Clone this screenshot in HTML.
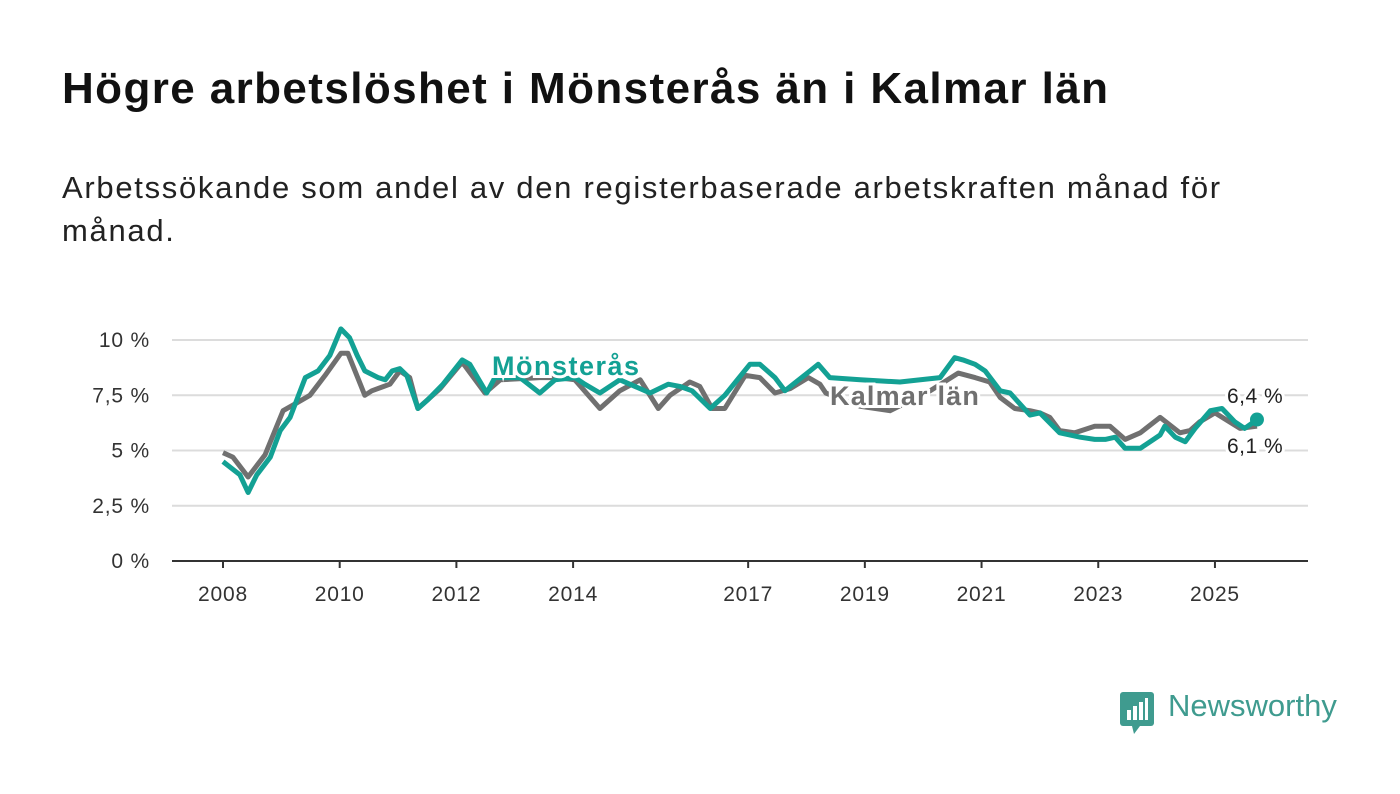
<!DOCTYPE html>
<html><head><meta charset="utf-8"><style>
body{margin:0;width:1400px;height:794px;background:#fff;font-family:"Liberation Sans",sans-serif;overflow:hidden;position:relative}
h1{position:absolute;left:62px;top:64px;margin:0;font-size:44px;letter-spacing:1.4px;font-weight:bold;color:#111}
p{position:absolute;left:62px;top:166px;margin:0;font-size:31px;letter-spacing:1.7px;line-height:43px;color:#222;width:1300px}
</style></head><body>
<h1>Högre arbetslöshet i Mönsterås än i Kalmar län</h1>
<p>Arbetssökande som andel av den registerbaserade arbetskraften månad för<br>månad.</p>
<svg id="c" width="1400" height="794" style="position:absolute;left:0;top:0"></svg>
<script>
const yTicks=[0,2.5,5,7.5,10];
const yTickLabels=["0 %","2,5 %","5 %","7,5 %","10 %"];
const xTicks=[2008,2010,2012,2014,2017,2019,2021,2023,2025];
const mDates=[2008.0,2008.29,2008.43,2008.58,2008.81,2008.98,2009.15,2009.41,2009.63,2009.83,2010.02,2010.17,2010.30,2010.43,2010.66,2010.78,2010.90,2011.03,2011.15,2011.34,2011.51,2011.77,2012.10,2012.23,2012.52,2012.66,2013.09,2013.43,2013.69,2014.03,2014.20,2014.46,2014.80,2015.32,2015.63,2015.83,2016.04,2016.35,2016.60,2017.03,2017.20,2017.46,2017.63,2018.06,2018.20,2018.40,2018.92,2019.60,2020.29,2020.54,2020.68,2020.89,2021.06,2021.32,2021.49,2021.83,2022.00,2022.34,2022.69,2022.94,2023.12,2023.29,2023.46,2023.72,2024.06,2024.14,2024.32,2024.49,2024.66,2024.92,2025.12,2025.34,2025.51,2025.72];
const mValues=[4.5,3.9,3.1,3.9,4.7,5.9,6.5,8.3,8.6,9.3,10.5,10.1,9.3,8.6,8.3,8.2,8.6,8.7,8.4,6.9,7.3,8.0,9.1,8.9,7.6,8.3,8.3,7.6,8.2,8.3,8.0,7.6,8.2,7.6,8.0,7.9,7.7,6.9,7.5,8.9,8.9,8.3,7.7,8.6,8.9,8.3,8.2,8.1,8.3,9.2,9.1,8.9,8.6,7.7,7.6,6.6,6.7,5.8,5.6,5.5,5.5,5.6,5.1,5.1,5.7,6.1,5.6,5.4,6.0,6.8,6.9,6.3,6.0,6.4];
const kDates=[2008.0,2008.17,2008.43,2008.72,2009.03,2009.23,2009.49,2009.75,2010.02,2010.14,2010.43,2010.55,2010.86,2011.03,2011.20,2011.34,2011.72,2012.10,2012.49,2012.75,2013.43,2013.74,2014.03,2014.46,2014.80,2015.15,2015.46,2015.66,2016.00,2016.17,2016.38,2016.60,2016.95,2017.20,2017.46,2017.72,2018.03,2018.23,2018.33,2018.92,2019.43,2020.12,2020.60,2020.89,2021.14,2021.32,2021.57,2021.83,2022.00,2022.17,2022.34,2022.60,2022.94,2023.20,2023.46,2023.72,2024.06,2024.40,2024.57,2024.74,2025.00,2025.43,2025.72];
const kValues=[4.9,4.7,3.8,4.8,6.8,7.1,7.5,8.4,9.4,9.4,7.5,7.7,8.0,8.6,8.3,6.9,7.8,9.0,7.6,8.2,8.3,8.3,8.2,6.9,7.7,8.2,6.9,7.5,8.1,7.9,6.9,6.9,8.4,8.3,7.6,7.8,8.3,8.0,7.6,7.0,6.8,7.7,8.5,8.3,8.1,7.4,6.9,6.8,6.7,6.5,5.9,5.8,6.1,6.1,5.5,5.8,6.5,5.8,5.9,6.3,6.7,6.0,6.1];
const svg=document.getElementById('c');const NS='http://www.w3.org/2000/svg';
const X=y=>223+(y-2008)*58.35, Y=v=>561-v*22.1;
function mk(t,a,p){const e=document.createElementNS(NS,t);for(const k in a)e.setAttribute(k,a[k]);(p||svg).appendChild(e);return e;}
yTicks.forEach((t,i)=>{
 if(t>0){const g=mk('line',{x1:172,x2:1308,y1:Y(t),y2:Y(t),stroke:'#dcdcdc','stroke-width':2});
 
 }
 const l=mk('text',{x:150,y:Y(t)+7,'text-anchor':'end','font-size':21,'letter-spacing':0.8,fill:'#333'});l.textContent=yTickLabels[i];
 
 
});
xTicks.forEach(t=>{
 const k=mk('line',{x1:X(t),x2:X(t),y1:561,y2:568,stroke:'#333','stroke-width':2});
 
 
 const l=mk('text',{x:X(t),y:601,'text-anchor':'middle','font-size':21,'letter-spacing':0.8,fill:'#333'});l.textContent=t;
 
 
});
const ax=mk('line',{x1:172,x2:1308,y1:561,y2:561,stroke:'#333','stroke-width':2});


function path(d,v,c,n){const p=mk('path',{d:d.map((x,i)=>(i?'L':'M')+X(x).toFixed(1)+','+Y(v[i]).toFixed(1)).join(''),fill:'none',stroke:c,'stroke-width':5,'stroke-linejoin':'round'});
 
 }
path(kDates,kValues,'#707070','kalmar-lan-line');
path(mDates,mValues,'#13a194','monsteras-line');
function lab(x,y,t,c,s,w,ls,n){const e=mk('text',{x:x,y:y,'font-size':s,'font-weight':w,'letter-spacing':ls,fill:c,stroke:'#fff','stroke-width':6,'paint-order':'stroke'});e.textContent=t;
 
 }
lab(492,375,'Mönsterås','#13a194',27,'bold',1.5,'monsteras-label');
lab(830,405,'Kalmar län','#707070',27,'bold',1.2,'kalmar-label');
const li=mValues.length-1;
const dot=mk('circle',{cx:X(mDates[li]),cy:Y(mValues[li]),r:7,fill:'#13a194'});


lab(1227,403,'6,4 %','#222',21,'normal',0.5,'monsteras-end-value');
lab(1227,453,'6,1 %','#222',21,'normal',0.5,'kalmar-end-value');
</script>
<div style="position:absolute;left:1120px;top:692px;display:flex;align-items:center">
 <svg width="34" height="42" viewBox="0 0 34 42"><rect x="0" y="0" width="34" height="34" rx="3" fill="#3f9b8f"/><polygon points="12,34 20,34 14,42" fill="#3f9b8f"/><rect x="7" y="18" width="4" height="10" fill="#fff"/><rect x="13" y="14" width="4" height="14" fill="#fff"/><rect x="19" y="10" width="4" height="18" fill="#fff"/><rect x="25" y="6" width="3" height="22" fill="#fff"/></svg>
 <span style="margin-left:14px;font-size:31px;color:#3f9b8f;font-weight:500;margin-top:-14px">Newsworthy</span>
</div>
</body></html>
